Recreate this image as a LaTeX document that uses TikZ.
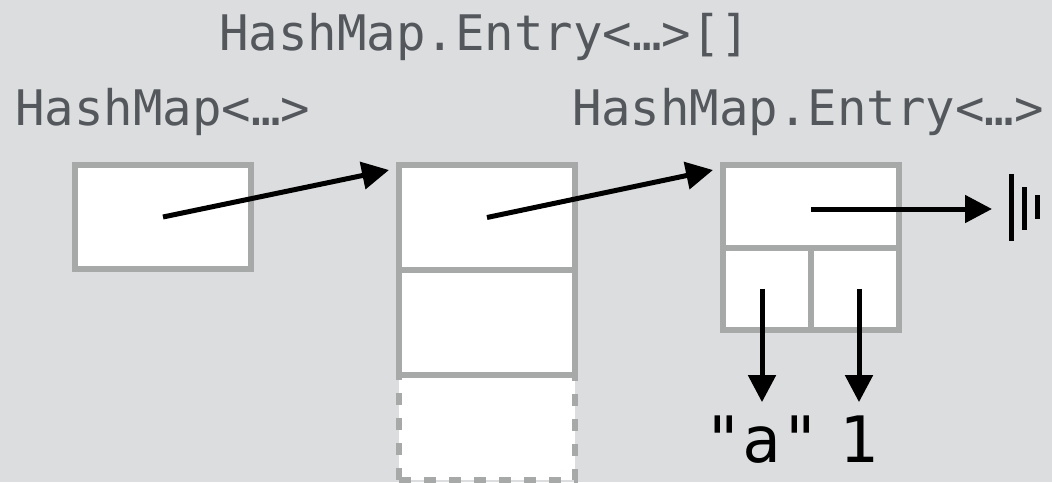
\documentclass[tikz,border=0pt]{standalone}
\usepackage{fontspec}
\newfontfamily\monofont{DejaVu Sans Mono}
\usetikzlibrary{arrows.meta,calc}
\definecolor{bgcol}{HTML}{DCDDDF}
\definecolor{cellline}{HTML}{A6A9A8}
\definecolor{typecol}{HTML}{54585D}
\tikzset{
  cell/.style={draw=cellline, line width=6pt, fill=white, inner sep=0pt, rectangle},
  ghostcell/.style={cell, dash pattern=on 12pt off 13pt},
  ref/.style={line width=5pt, -{Triangle[length=27pt,width=27pt]}},
  typelabel/.style={text=typecol, font=\monofont\fontsize{49}{58}\selectfont, inner sep=0pt, anchor=base},
  value/.style={text=black, font=\monofont\fontsize{64}{76}\selectfont, inner sep=0pt, anchor=base},
  nullbar/.style={line width=5pt}
}
\begin{document}
\begin{tikzpicture}[x=1pt, y=-1pt]
  \fill[bgcol] (0,0) rectangle (1052,482);
  \useasboundingbox (0,0) rectangle (1052,482);

  % the map object
  \node[cell, minimum width=176pt, minimum height=104pt] (map) at (163,217) {};
  \node[typelabel] (maplbl) at (163,125) {HashMap<…>};

  % the bucket array
  \node[ghostcell, minimum width=176pt, minimum height=105pt] (arr3) at (487,427.5) {};
  \node[cell, minimum width=176pt, minimum height=105pt] (arr2) at (487,322.5) {};
  \node[cell, minimum width=176pt, minimum height=105pt] (arr1) at (487,217.5) {};
  \node[typelabel] (arrlbl) at (485,50) {HashMap.Entry<…>[]};

  % the entry object
  \node[cell, minimum width=176pt, minimum height=82.5pt] (next) at (811,206.25) {};
  \node[cell, minimum width=88pt, minimum height=82.5pt] (key) at (767,288.75) {};
  \node[cell, minimum width=88pt, minimum height=82.5pt] (val) at (855,288.75) {};
  \node[typelabel] (entlbl) at (808,125) {HashMap.Entry<…>};

  % key and value
  \node[value] (kstr) at (762,462) {"a"};
  \node[value] (vnum) at (859,462) {1};

  % null reference symbol
  \coordinate (nul) at (992,209);
  \draw[nullbar] ($(nul)+(19,-35)$) -- ($(nul)+(19,32)$);
  \draw[nullbar] ($(nul)+(32,-22)$) -- ($(nul)+(32,21)$);
  \draw[nullbar] ($(nul)+(45,-14)$) -- ($(nul)+(45,10)$);

  % references
  \draw[ref] (map.center) -- ([shift={(-7pt,-8pt)}]arr1.north west);
  \draw[ref] (arr1.center) -- ([shift={(-7pt,-8pt)}]next.north west);
  \draw[ref] (next.center |- nul) -- (nul);
  \draw[ref] (kstr |- key.center) -- ([yshift=13pt]kstr.north);
  \draw[ref] (vnum |- val.center) -- ([yshift=13pt]vnum.north);
\end{tikzpicture}
\end{document}
